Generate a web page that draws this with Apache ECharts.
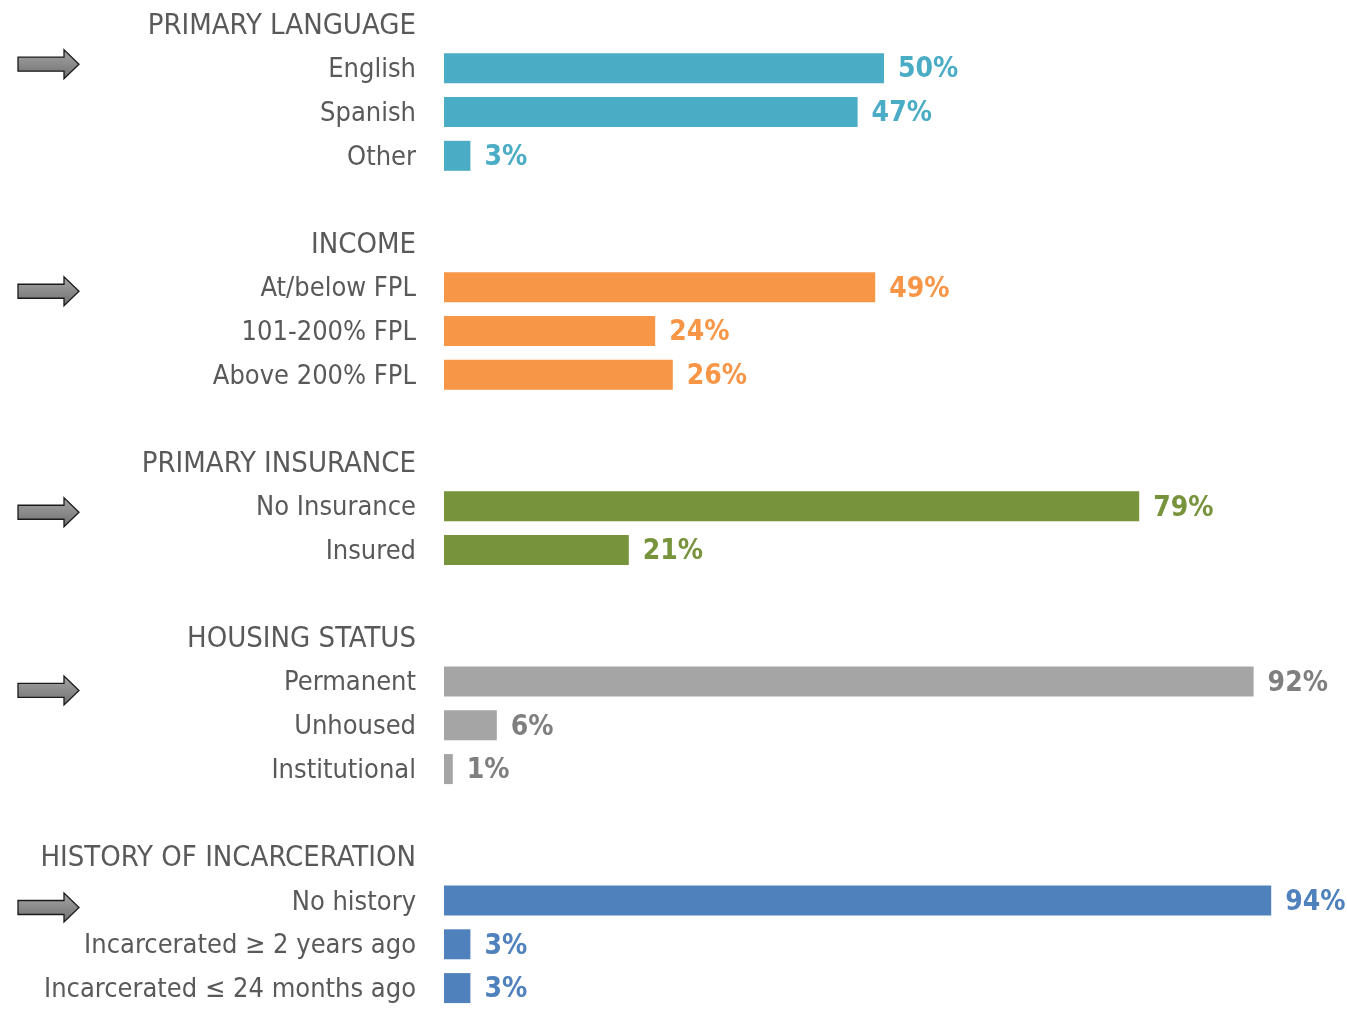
<!DOCTYPE html>
<html>
<head>
<meta charset="utf-8">
<script src="https://cdn.jsdelivr.net/npm/echarts@6/dist/echarts.min.js"></script>
<style>
  html, body { margin: 0; padding: 0; background: #fff; }
  #chart { width: 1347px; height: 1010px; }
</style>
</head>
<body>
<div id="chart"></div>
<script>
// section headers and items
const sectionTitles = ['PRIMARY LANGUAGE', 'INCOME', 'PRIMARY INSURANCE', 'HOUSING STATUS', 'HISTORY OF INCARCERATION']
const languageItems = ['English', 'Spanish', 'Other']
const languageValues = [50, 47, 3]
const incomeItems = ['At/below FPL', '101-200% FPL', 'Above 200% FPL']
const incomeValues = [49, 24, 26]
const insuranceItems = ['No Insurance', 'Insured']
const insuranceValues = [79, 21]
const housingItems = ['Permanent', 'Unhoused', 'Institutional']
const housingValues = [92, 6, 1]
const incarcerationItems = ['No history', 'Incarcerated ≥ 2 years ago', 'Incarcerated ≤ 24 months ago']
const incarcerationValues = [94, 3, 3]

const barColors = ['#4bacc6', '#f79646', '#77933c', '#a5a5a5', '#4f81bd']
const labelColors = ['#4bacc6', '#f79646', '#77933c', '#7f7f7f', '#4f81bd']
// small vertical nudge of the arrows against the first row of each block
const arrowNudge = [-4, 4, 6, 9, 7]

const sections = [
  { items: languageItems, values: languageValues },
  { items: incomeItems, values: incomeValues },
  { items: insuranceItems, values: insuranceValues },
  { items: housingItems, values: housingValues },
  { items: incarcerationItems, values: incarcerationValues }
]

// build the row list: header, items, spacer
const rows = []
const firstRow = []
sections.forEach((s, i) => {
  rows.push({ name: sectionTitles[i], section: -1, header: true })
  firstRow.push(rows.length)
  s.items.forEach((it, j) => rows.push({ name: it, section: i, value: s.values[j] }))
  if (i < sections.length - 1) rows.push({ name: ' '.repeat(i + 1), section: -1 })
})
const headerSet = new Set(sectionTitles)

const font = '"Liberation Sans Narrow", "Arial Narrow", "DejaVu Sans Condensed", sans-serif'

const series = sections.map((s, i) => ({
  type: 'bar',
  barWidth: 30,
  barGap: '-100%',
  itemStyle: { color: barColors[i] },
  label: {
    show: true,
    position: 'right',
    distance: 14,
    offset: [0, 2],
    formatter: '{c}%',
    color: labelColors[i],
    fontFamily: font,
    fontWeight: 'bold',
    fontSize: 28
  },
  data: rows.map(r => (r.section === i ? r.value : '-'))
}))

const chart = echarts.init(document.getElementById('chart'))
const band = 44.09
chart.setOption({
  animation: false,
  grid: { left: 444, top: 2.5, width: 880, height: band * rows.length },
  xAxis: { type: 'value', min: 0, max: 100, show: false },
  yAxis: {
    type: 'category',
    inverse: true,
    data: rows.map(r => r.name),
    axisLine: { show: false },
    axisTick: { show: false },
    axisLabel: {
      margin: 28,
      interval: 0,
      formatter: v => (headerSet.has(v) ? '{h|' + v + '}' : '{i|' + v + '}'),
      rich: {
        h: { fontFamily: font, fontSize: 29, color: '#595959', padding: [4, 0, 0, 0] },
        i: { fontFamily: font, fontSize: 27, color: '#595959', padding: [4, 0, 0, 0] }
      }
    }
  },
  series
})

// arrows pointing at the first row of each block
const arrows = firstRow.map((idx, i) => {
  const y = chart.convertToPixel({ yAxisIndex: 0 }, idx) + arrowNudge[i]
  return {
    type: 'polygon',
    shape: {
      points: [[18, y - 7], [64, y - 7], [64, y - 14.5], [79, y], [64, y + 14.5], [64, y + 7], [18, y + 7]]
    },
    style: {
      fill: new echarts.graphic.LinearGradient(0, 0, 0, 1, [
        { offset: 0, color: '#a6a6a6' },
        { offset: 1, color: '#6f6f6f' }
      ]),
      stroke: '#1a1a1a',
      lineWidth: 1.3
    }
  }
})
chart.setOption({ graphic: arrows })
</script>
</body>
</html>
